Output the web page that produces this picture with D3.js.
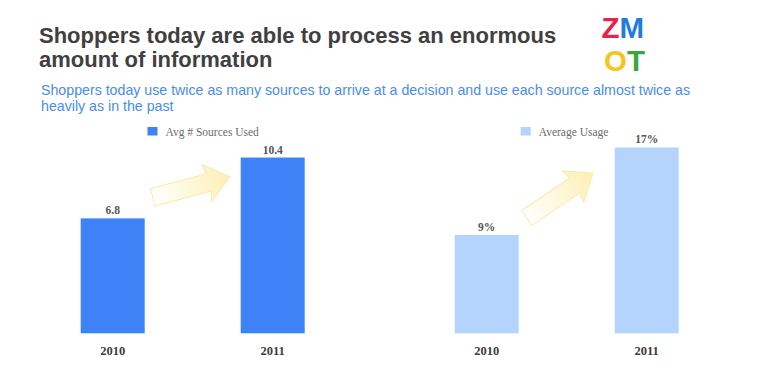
<!doctype html>
<html>
<head>
<meta charset="UTF-8">
<title>ZMOT sources</title>
<script src="https://d3js.org/d3.v7.min.js"></script>
<style>
  body { margin: 0; background: #fff; }
  svg text { font-family: "Liberation Sans", Arial, sans-serif; }
  .serif { font-family: "Liberation Serif", "DejaVu Serif", serif !important; }
</style>
</head>
<body>
<script>
// data
var years = ["2010", "2011"];
var sourcesUsed = [6.8, 10.4];
var avgUsage = [9, 17];
var titleLines = ["Shoppers today are able to process an enormous", "amount of information"];
var subLines = ["Shoppers today use twice as many sources to arrive at a decision and use each source almost twice as",
                "heavily as in the past"];

var W = 760, H = 372;
var svg = d3.select("body").append("svg").attr("width", W).attr("height", H);

// title + subtitle
svg.append("g").selectAll("text").data(titleLines).enter().append("text")
    .attr("x", 39).attr("y", function(d, i){ return 43 + i * 24; })
    .attr("fill", "#404040").attr("font-size", 22).attr("font-weight", "bold")
    .text(function(d){ return d; });

svg.append("g").selectAll("text").data(subLines).enter().append("text")
    .attr("x", 41).attr("y", function(d, i){ return 95 + i * 15.5; })
    .attr("fill", "#4a8de6").attr("font-size", 14.2)
    .text(function(d){ return d; });

// logo, one text block on two lines
var logo = svg.append("text").attr("x", 601.5).attr("y", 38)
    .attr("font-weight", "bold").attr("font-size", 29.5);
logo.append("tspan").attr("fill", "#e6214b").text("Z");
logo.append("tspan").attr("fill", "#1e7cdc").text("M");
logo.append("tspan").attr("fill", "#f6c41b").attr("x", 604).attr("dy", 33).text("O");
logo.append("tspan").attr("fill", "#3ba73b").text("T");

// arrow gradient
var defs = svg.append("defs");
var grad = defs.append("linearGradient").attr("id", "arrowGrad")
    .attr("x1", "0%").attr("x2", "100%").attr("y1", "0%").attr("y2", "0%");
grad.append("stop").attr("offset", "0%").attr("stop-color", "#ffffff");
grad.append("stop").attr("offset", "100%").attr("stop-color", "#fdf0b4");

function drawChart(opts){
    var g = svg.append("g");
    var x = d3.scaleBand().domain(years).range(opts.xRange).paddingInner(0.6).paddingOuter(0.3);
    var y = d3.scaleLinear().domain(opts.yDomain).range([333.3, opts.yTop]);

    g.selectAll("rect.bar").data(opts.values).enter().append("rect")
        .attr("class", "bar")
        .attr("x", function(d, i){ return x(years[i]); })
        .attr("y", function(d){ return y(d); })
        .attr("width", x.bandwidth())
        .attr("height", function(d){ return y(0) - y(d); })
        .attr("fill", opts.color);

    g.selectAll("text.val").data(opts.values).enter().append("text")
        .attr("class", "val serif")
        .attr("x", function(d, i){ return x(years[i]) + x.bandwidth() / 2; })
        .attr("y", function(d){ return y(d) - 4; })
        .attr("text-anchor", "middle")
        .attr("font-size", 11.5).attr("font-weight", "bold").attr("fill", "#555")
        .text(opts.fmt);

    var axis = g.append("g").attr("transform", "translate(0," + y(0) + ")")
        .call(d3.axisBottom(x).tickSize(0).tickPadding(13));
    axis.select(".domain").remove();
    axis.selectAll("text").attr("class", "serif").attr("font-size", 12.5)
        .attr("font-weight", "bold").attr("fill", "#3c3c3c");

    // legend
    var lg = g.append("g").attr("transform", "translate(" + opts.legendX + ",127)");
    lg.append("rect").attr("width", 10).attr("height", 8.5).attr("fill", opts.color);
    lg.append("text").attr("class", "serif").attr("x", 18).attr("y", 8.5)
        .attr("font-size", 11.5).attr("fill", "#6b6b6b").text(opts.legend);

    // decorative arrow between the bars
    var x0 = x(years[0]) + x.bandwidth() + opts.arrow[0];
    var y0 = y(opts.values[0]) - opts.arrow[1];
    g.append("path")
        .attr("d", "M0,-9 L58,-9 L56,-19 L80,0 L56,19 L58,9 L0,9 Z")
        .attr("transform", "translate(" + x0 + "," + y0 + ") rotate(" + opts.arrow[2] + ")")
        .attr("fill", "url(#arrowGrad)")
        .attr("stroke", "#fbe9a8").attr("stroke-width", 1);
}

drawChart({
    xRange: [32.7, 352.7], yDomain: [0, 12], yTop: 130.5,
    values: sourcesUsed, color: "#3d83f7",
    fmt: function(d){ return d.toFixed(1); },
    legendX: 147.5, legend: "Avg # Sources Used",
    arrow: [8, 21, -15]
});

drawChart({
    xRange: [406.7, 726.7], yDomain: [0, 20], yTop: 114.7,
    values: avgUsage, color: "#b4d4fd",
    fmt: function(d){ return d + "%"; },
    legendX: 520.7, legend: "Average Usage",
    arrow: [8, 17, -34]
});
</script>
</body>
</html>
